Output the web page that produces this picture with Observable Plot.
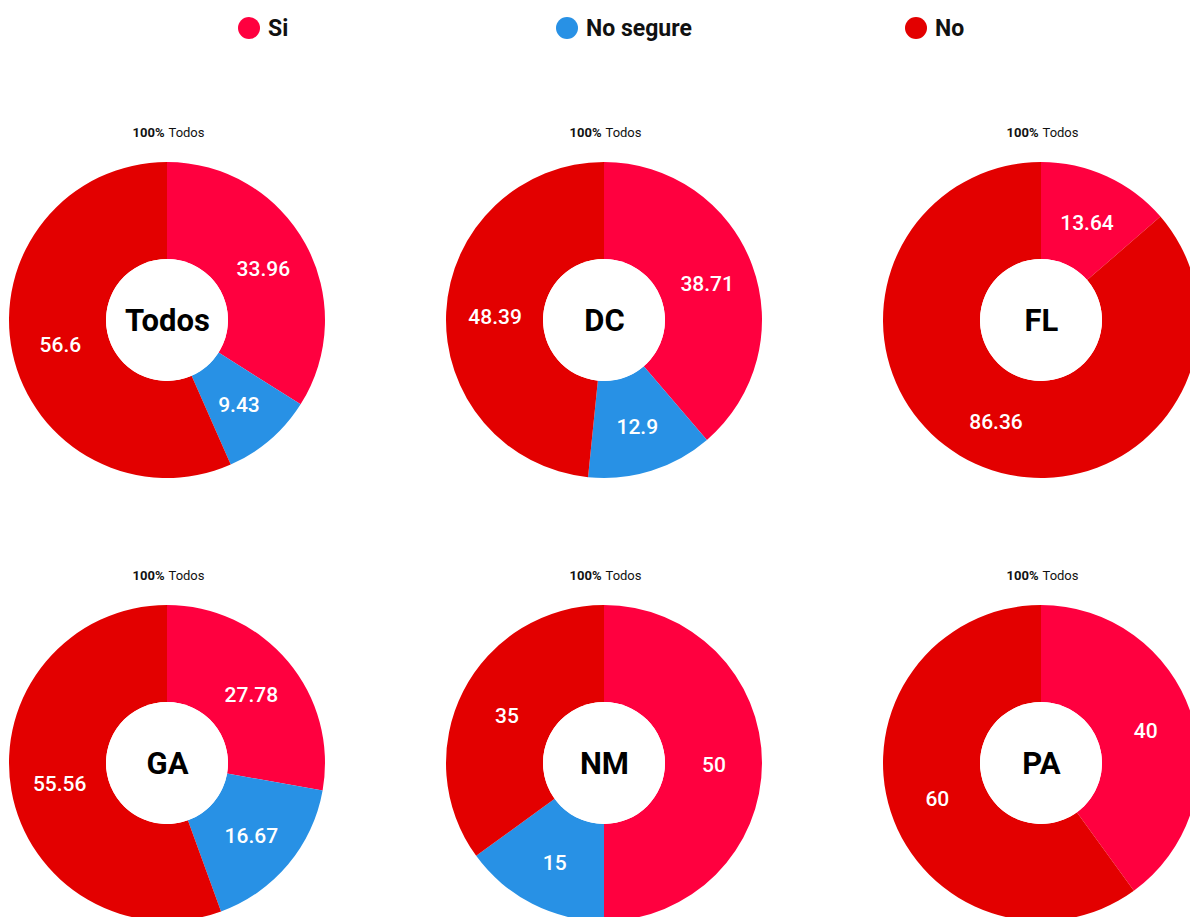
<!DOCTYPE html>
<html>
<head>
<meta charset="utf-8">
<script src="https://cdn.jsdelivr.net/npm/d3@7"></script>
<script src="https://cdn.jsdelivr.net/npm/@observablehq/plot@0.6"></script>
<style>
  html, body { margin:0; padding:0; background:#fff; }
  body { width:1190px; height:917px; overflow:hidden; position:relative; font-family: Roboto, "Noto Sans", sans-serif; }
  .legend-item { position:absolute; top:17px; height:22px; display:flex; align-items:center; }
  .legend-item .sw { width:22px; height:22px; border-radius:50%; margin-right:8px; }
  .legend-item .lb { font-family: "Liberation Sans Narrow", Roboto, sans-serif; font-weight:700; font-size:23px; color:#111; }
  .chart { position:absolute; width:330px; height:400px; }
  .chart svg { max-width:none !important; width:330px; height:400px; }
</style>
</head>
<body>
<div id="legend"></div>
<div id="charts"></div>
<script>
const groups = ["Todos", "DC", "FL", "GA", "NM", "PA"];
const categories = ["Si", "No segure", "No"];
const siValues = [33.96, 38.71, 13.64, 27.78, 50, 40];
const noSegureValues = [9.43, 12.9, 0, 16.67, 15, 0];
const noValues = [56.6, 48.39, 86.36, 55.56, 35, 60];
const categoryColors = ["#FF003F", "#2891E5", "#E30000"];
const titleBold = "100%";
const titleText = "Todos";

// legend
const legendX = [238, 556, 905];
const legend = document.getElementById("legend");
categories.forEach((c, i) => {
  const item = document.createElement("div");
  item.className = "legend-item";
  item.style.left = legendX[i] + "px";
  item.innerHTML = `<div class="sw" style="background:${categoryColors[i]}"></div><div class="lb">${c}</div>`;
  legend.appendChild(item);
});

const R_OUT = 158, R_IN = 61;
const charts = document.getElementById("charts");

groups.forEach((g, i) => {
  const values = [siValues[i], noSegureValues[i], noValues[i]];
  const rows = categories.map((c, k) => ({category: c, value: values[k], group: g}));
  const pie = d3.pie().sort(null).value(d => d.value)(rows);
  const arc = d3.arc().innerRadius(R_IN).outerRadius(R_OUT);
  const labelData = pie.filter(d => d.data.value > 0).map(d => {
    const [cx, cy] = arc.centroid(d);
    return {cx, cy, label: String(d.data.value)};
  });

  const slicesMark = (index, scales) => {
    const gEl = d3.create("svg:g");
    const x0 = scales.x(0), y0 = scales.y(0);
    gEl.attr("transform", `translate(${x0},${y0})`);
    gEl.selectAll("path").data(pie.filter(d => d.data.value > 0)).join("path")
      .attr("d", arc)
      .attr("fill", d => scales.color(d.data.category));
    gEl.append("circle").attr("r", R_IN).attr("fill", "#fff");
    return gEl.node();
  };

  const plot = Plot.plot({
    width: 330,
    height: 400,
    margin: 0,
    style: {fontFamily: "Roboto, 'Noto Sans', sans-serif", background: "transparent", overflow: "visible"},
    x: {domain: [-165, 165], axis: null},
    y: {domain: [-200, 200], range: [0, 400], axis: null},
    color: {domain: categories, range: categoryColors},
    marks: [
      Plot.dot(rows, {x: () => 0, y: () => 0, r: 0, fill: "category"}),
      slicesMark,
      Plot.text(labelData, {x: "cx", y: "cy", text: "label", fill: "white", fontSize: 21, fontWeight: 500, dy: 2}),
      Plot.text([g], {x: 0, y: 0, text: d => d, fontSize: 31, fontWeight: "bold", fill: "#000", dy: 1}),
      Plot.text([titleBold], {x: 0, y: -188, text: d => d, textAnchor: "end", dx: -3, fontSize: 13, fontWeight: "bold", fill: "#111"}),
      Plot.text([titleText], {x: 0, y: -188, text: d => d, textAnchor: "start", dx: 1, fontSize: 13, fill: "#111"})
    ]
  });
  const col = i % 3, row = Math.floor(i / 3);
  const wrap = document.createElement("div");
  wrap.className = "chart";
  wrap.style.left = (2 + 437 * col) + "px";
  wrap.style.top = (120 + 443 * row) + "px";
  wrap.appendChild(plot);
  charts.appendChild(wrap);
});
</script>
</body>
</html>
